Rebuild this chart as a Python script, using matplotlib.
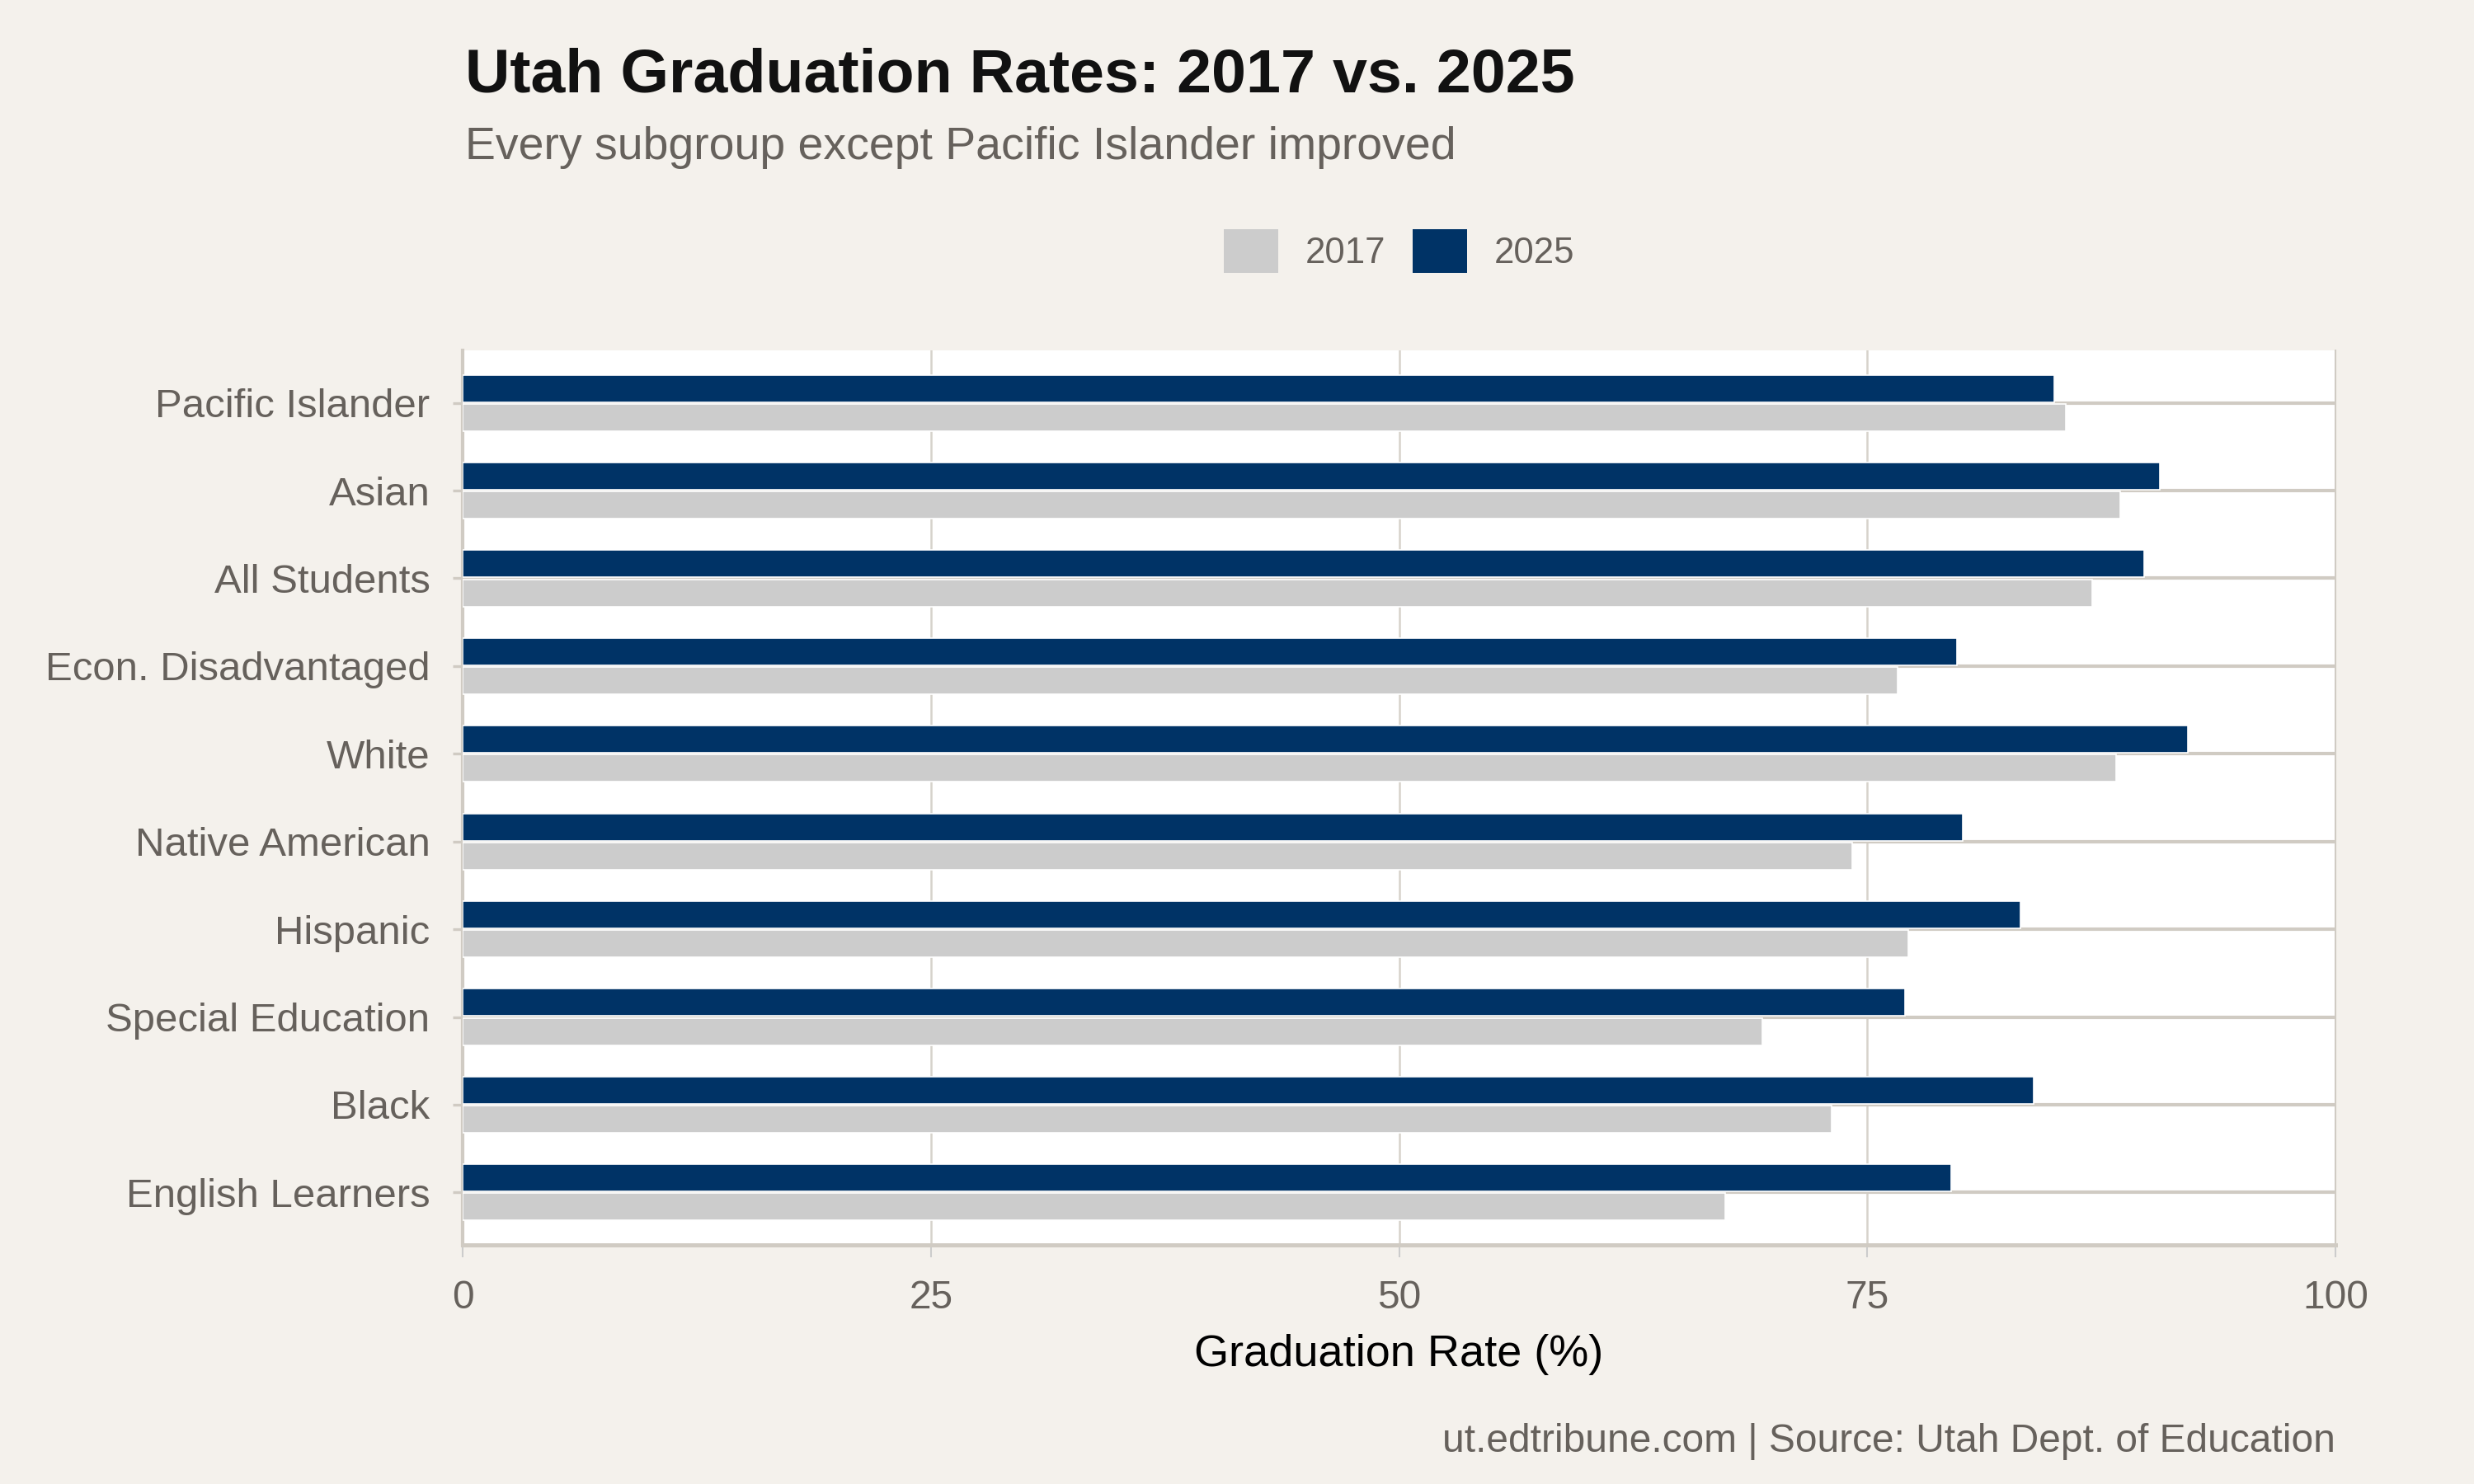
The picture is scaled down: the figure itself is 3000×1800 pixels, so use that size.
import numpy as np
import matplotlib
matplotlib.use("Agg")
import matplotlib.pyplot as plt
from matplotlib.patches import Patch

# data (bottom to top)
groups = ["English Learners", "Black", "Special Education", "Hispanic",
          "Native American", "White", "Econ. Disadvantaged", "All Students",
          "Asian", "Pacific Islander"]
rate_2017 = [67.4, 73.1, 69.4, 77.2, 74.2, 88.3, 76.6, 87.0, 88.5, 85.6]
rate_2025 = [79.5, 83.9, 77.0, 83.2, 80.1, 92.1, 79.8, 89.8, 90.6, 85.0]
years = ["2017", "2025"]
xticks = [0, 25, 50, 75, 100]

bg = "#f4f1ec"
navy = "#003366"
light = "#cccccc"
grid_col = "#d0cbc3"
txt_gray = "#66615c"

plt.rcParams["font.family"] = ["Liberation Sans", "DejaVu Sans"]

fig = plt.figure(figsize=(10, 6), dpi=300, facecolor=bg)
ax = fig.add_axes([0.187, 0.161, 0.757, 0.603])
ax.set_facecolor("white")

y = np.arange(len(groups))
h = 0.31
ax.barh(y - 0.165, rate_2017, height=h, color=light, edgecolor="white", linewidth=0.4, zorder=3)
ax.barh(y + 0.165, rate_2025, height=h, color=navy, edgecolor="white", linewidth=0.4, zorder=3)

ax.set_xlim(0, 100)
ax.set_ylim(-0.6, len(groups) - 0.4)
ax.set_xticks(xticks)
ax.set_xticklabels([str(t) for t in xticks])
ax.set_yticks(y)
ax.set_yticklabels(groups)

# grid
for t in xticks:
    ax.axvline(t, color="#d6d2cb", lw=0.6, zorder=1)
for yy in y:
    ax.axhline(yy, color=grid_col, lw=1.0, zorder=2)

ax.spines["top"].set_visible(False)
ax.spines["right"].set_color(grid_col)
ax.spines["right"].set_linewidth(0.5)
ax.spines["left"].set_color(grid_col)
ax.spines["left"].set_linewidth(1.0)
ax.spines["bottom"].set_color(grid_col)
ax.spines["bottom"].set_linewidth(1.2)

ax.tick_params(axis="y", length=3, width=0.8, color=grid_col, pad=6.5,
               labelsize=11.8, labelcolor=txt_gray)
ax.tick_params(axis="x", length=3.5, width=0.5, color="#cccccc", pad=6.5,
               labelsize=11.5, labelcolor=txt_gray)

ax.set_xlabel("Graduation Rate (%)", fontsize=13, color="black", labelpad=5)

fig.text(0.188, 0.938, "Utah Graduation Rates: 2017 vs. 2025", fontsize=18.1,
         fontweight="bold", color="#111111", ha="left", va="baseline")
fig.text(0.188, 0.893, "Every subgroup except Pacific Islander improved", fontsize=13.3,
         color=txt_gray, ha="left", va="baseline")

handles = [Patch(facecolor=light, edgecolor="none"), Patch(facecolor=navy, edgecolor="none")]
fig.legend(handles, years, loc="center", bbox_to_anchor=(0.5655, 0.831), ncol=2,
           frameon=False, fontsize=10.5, labelcolor=txt_gray, handlelength=1.5,
           handleheight=1.5, handletextpad=0.75, columnspacing=0.75)

fig.text(0.944, 1 - 1761 / 1800, "ut.edtribune.com | Source: Utah Dept. of Education",
         fontsize=11.5, color=txt_gray, ha="right", va="baseline")

fig.savefig("out.png", dpi=300, facecolor=bg)
